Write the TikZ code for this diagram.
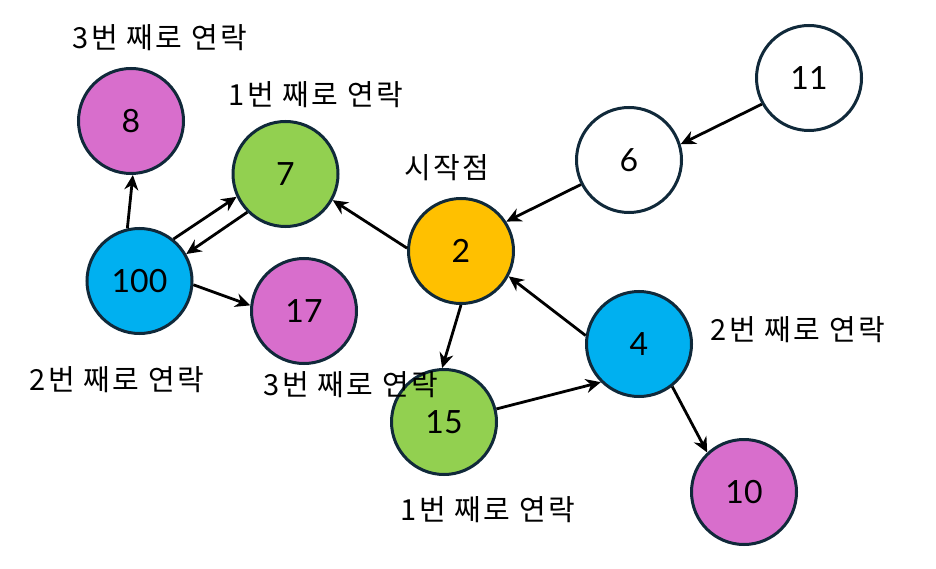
\documentclass[tikz,border=0pt]{standalone}
\usepackage{fontspec}
\setmainfont{Lato}
\newfontfamily\kr[LetterSpace=8]{Noto Sans CJK KR}
\usetikzlibrary{arrows.meta}
\definecolor{edgecol}{HTML}{10293A}
\definecolor{cpurple}{HTML}{D86ECC}
\definecolor{cgreen}{HTML}{92D050}
\definecolor{cblue}{HTML}{00B0F0}
\definecolor{corange}{HTML}{FFC000}
\begin{document}
\begin{tikzpicture}[x=1pt,y=-1pt,
 vnode/.style={circle, draw=edgecol, line width=3pt, minimum size=105pt, inner sep=0pt, font=\fontsize{32}{38}\selectfont},
 lbl/.style={font=\kr\fontsize{29}{34}\selectfont, inner sep=0pt},
 conn/.style={line width=2.8pt, -{Stealth[length=15pt,width=14pt]}}]
\useasboundingbox[fill=white] (0,0) rectangle (936,569);
% nodes
\node[vnode, fill=cpurple] (n8) at (131,121) {8};
\node[vnode, fill=cgreen] (n7) at (285.5,174) {7};
\node[vnode, fill=cblue] (n100) at (139.5,281) {100};
\node[vnode, fill=cpurple] (n17) at (304,311) {17};
\node[vnode, fill=corange] (n2) at (461,251) {2};
\node[vnode, fill=white] (n6) at (629,160) {6};
\node[vnode, fill=white] (n11) at (809,78) {11};
\node[vnode, fill=cblue] (n4) at (639,344) {4};
\node[vnode, fill=cgreen] (n15) at (444,422) {15};
\node[vnode, fill=cpurple] (n10) at (744,492) {10};
% labels
\node[lbl] (l8) at (160,38) {3번 째로 연락};
\node[lbl] (l7) at (316,95) {1번 째로 연락};
\node[lbl] (l2) at (447,168) {시작점};
\node[lbl] (l4) at (798,330) {2번 째로 연락};
\node[lbl] (l100) at (117,380) {2번 째로 연락};
\node[lbl] (l17) at (351,385) {3번 째로 연락};
\node[lbl] (l15) at (488,510) {1번 째로 연락};
% connectors
\draw[conn] (n100.103) -- (n8.272);
\draw[conn] (n100.51) -- (n7.205);
\draw[conn] (n7.225) -- (n100.30);
\draw[conn] (n100.-4) -- (n17.174);
\draw[conn] (n2.177) -- (n7.-29);
\draw[conn] (n6.207) -- (n2.33);
\draw[conn] (n11.209) -- (n6.17);
\draw[conn] (n4.171) -- (n2.-28);
\draw[conn] (n2.-90) -- (n15.92);
\draw[conn] (n15.14) -- (n4.225);
\draw[conn] (n4.-52) -- (n10.133);
\end{tikzpicture}
\end{document}
